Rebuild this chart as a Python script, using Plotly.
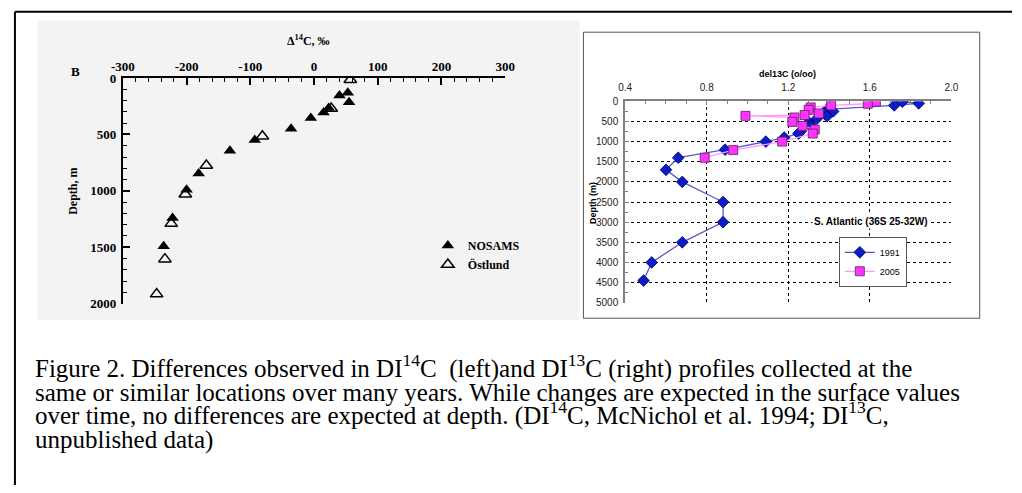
import plotly.graph_objects as go

# ---------------- data ----------------
# Left panel: Delta 14C profiles
nosams_d14c = [53, 40, 55, 23, 15, -5, -36, -93, -132, -181, -200, -222, -236]
nosams_depth = [130, 155, 215, 265, 305, 355, 450, 550, 645, 845, 990, 1240, 1490]
ostlund_d14c = [57, 27, -81, -169, -202, -224, -234, -247]
ostlund_depth = [15, 270, 515, 775, 1030, 1290, 1605, 1915]

# Right panel: del13C profiles, S. Atlantic
d13c_1991 = [1.76, 1.84, 1.72, 1.39, 1.42, 1.38, 1.39, 1.34, 1.30, 1.31, 1.26, 1.25,
             1.18, 1.09, 0.89, 0.66, 0.60, 0.68, 0.88, 0.88, 0.68, 0.53, 0.49]
depth_1991 = [10, 50, 100, 200, 250, 300, 370, 430, 520, 600, 750, 800,
              900, 1000, 1200, 1400, 1700, 2000, 2500, 3000, 3500, 4000, 4450]
d13c_2005 = [1.63, 1.59, 1.41, 1.31, 1.30, 1.35, 1.28, 0.99, 1.23, 1.22, 1.27, 1.33,
             1.32, 1.17, 0.93, 0.79]
depth_2005 = [10, 60, 100, 150, 210, 300, 340, 360, 400, 510, 610, 700,
              800, 1000, 1210, 1400]

left_xticks = [-300, -200, -100, 0, 100, 200, 300]
left_xlabels = ["-300", "-200", "-100", "0", "100", "200", "300"]
left_yticks = [0, 500, 1000, 1500, 2000]

caption_lines = [
    "Figure 2. Differences observed in DI<sup>14</sup>C  (left)and DI<sup>13</sup>C (right) profiles collected at the",
    "same or similar locations over many years. While changes are expected in the surface values",
    "over time, no differences are expected at depth. (DI<sup>14</sup>C, McNichol et al. 1994; DI<sup>13</sup>C,",
    "unpublished data)",
]

# ---------------- helpers ----------------
W, H = 1022, 493


def px(x):
    return x / W


def py(y):
    return 1 - y / H


SERIF = "Liberation Serif, Times New Roman, serif"
SANS = "Liberation Sans Narrow, Arial Narrow, Liberation Sans, Arial, sans-serif"

fig = go.Figure()

# Left panel traces
fig.add_trace(go.Scatter(
    x=nosams_d14c, y=nosams_depth, mode="markers", name="NOSAMS",
    marker=dict(symbol="triangle-up", size=11, color="black"),
    xaxis="x", yaxis="y", legend="legend2"))
fig.add_trace(go.Scatter(
    x=ostlund_d14c, y=ostlund_depth, mode="markers", name="Östlund",
    marker=dict(symbol="triangle-up-open", size=11, color="black", line=dict(width=1.5)),
    xaxis="x", yaxis="y", legend="legend2"))

# Right panel traces
fig.add_trace(go.Scatter(
    x=d13c_1991, y=depth_1991, mode="lines+markers", name="1991",
    line=dict(color="#5a5ac8", width=1.3),
    marker=dict(symbol="diamond", size=9, color="#0a1ec8", line=dict(color="#000060", width=0.8)),
    xaxis="x2", yaxis="y2", legend="legend"))
fig.add_trace(go.Scatter(
    x=d13c_2005, y=depth_2005, mode="lines+markers", name="2005",
    line=dict(color="#ff99ff", width=1.3),
    marker=dict(symbol="square", size=9, color="#ff33ff", line=dict(color="#602060", width=0.8)),
    xaxis="x2", yaxis="y2", legend="legend"))

shapes = [
    # light grey backdrop of the scanned left panel
    dict(type="rect", xref="paper", yref="paper", x0=px(26), x1=px(580), y0=py(323), y1=py(14),
         fillcolor="#f3f3f3", line=dict(width=0), layer="below"),
    # right panel frame
    dict(type="rect", xref="paper", yref="paper", x0=px(584), x1=px(989), y0=py(321), y1=py(26),
         fillcolor="white", line=dict(color="#555555", width=1), layer="below"),
    # outer frame (top and left edges visible)
    dict(type="line", xref="paper", yref="paper", x0=px(3), x1=1, y0=py(5), y1=py(5),
         line=dict(color="black", width=2), layer="above"),
    dict(type="line", xref="paper", yref="paper", x0=px(3), x1=px(3), y0=py(5), y1=0,
         line=dict(color="black", width=2), layer="above"),
]

annotations = [
    dict(text="<b>Δ<sup>14</sup>C, ‰</b>", x=px(303), y=py(35), xref="paper", yref="paper",
         showarrow=False, font=dict(family=SERIF, size=12, color="black"),
         xanchor="center", yanchor="middle"),
    dict(text="<b>B</b>", x=px(65), y=py(67), xref="paper", yref="paper",
         showarrow=False, font=dict(family=SERIF, size=13, color="black"),
         xanchor="center", yanchor="middle"),
    dict(text="<b>Depth, m</b>", x=px(63), y=py(190), xref="paper", yref="paper",
         showarrow=False, textangle=-90, font=dict(family=SERIF, size=12, color="black"),
         xanchor="center", yanchor="middle"),
    dict(text="<b>del13C (o/oo)</b>", x=px(793), y=py(69), xref="paper", yref="paper",
         showarrow=False, font=dict(family=SANS, size=9, color="black"),
         xanchor="center", yanchor="middle"),
    dict(text="<b>Depth (m)</b>", x=px(594), y=py(202), xref="paper", yref="paper",
         showarrow=False, textangle=-90, font=dict(family=SANS, size=9, color="black"),
         xanchor="center", yanchor="middle"),
    dict(text="<b>S. Atlantic (36S 25-32W)</b>", x=px(878), y=py(221), xref="paper", yref="paper",
         showarrow=False, font=dict(family=SANS, size=10, color="black"),
         xanchor="center", yanchor="middle", bgcolor="white"),
]

# caption: one annotation per line, anchored at the bottom so baselines stay evenly spaced
cap_baselines = [383, 407.5, 432, 456.5]
cap_size = 25
for line, base in zip(caption_lines, cap_baselines):
    annotations.append(dict(text=line, x=px(21), y=py(base + 0.216 * cap_size + 1),
                            xref="paper", yref="paper", showarrow=False,
                            font=dict(family=SERIF, size=cap_size, color="black"),
                            xanchor="left", yanchor="bottom"))

fig.update_layout(
    width=W, height=H,
    margin=dict(l=0, r=0, t=0, b=0),
    paper_bgcolor="white",
    plot_bgcolor="rgba(0,0,0,0)",
    showlegend=True,
    shapes=shapes,
    annotations=annotations,
    xaxis=dict(
        domain=[px(113.3), px(504)], range=[-300, 300], side="top", anchor="y",
        tickmode="array", tickvals=left_xticks, ticktext=left_xlabels,
        showline=True, linecolor="black", linewidth=2,
        ticks="inside", ticklen=7, tickwidth=1.5, tickcolor="black",
        minor=dict(dtick=20, tick0=0, ticks="inside", ticklen=4, tickwidth=1, tickcolor="black", showgrid=False),
        showgrid=False, zeroline=False,
        tickfont=dict(family=SERIF, size=13, color="black", weight="bold"),
        ticklabelstandoff=0,
    ),
    yaxis=dict(
        domain=[py(306), py(73.3)], range=[2000, 0], anchor="x",
        tickmode="array", tickvals=left_yticks,
        showline=True, linecolor="black", linewidth=2,
        ticks="inside", ticklen=7, tickwidth=1.5, tickcolor="black",
        minor=dict(dtick=100, tick0=0, ticks="inside", ticklen=4, tickwidth=1, tickcolor="black", showgrid=False),
        showgrid=False, zeroline=False,
        tickfont=dict(family=SERIF, size=13, color="black", weight="bold"),
        ticklabelstandoff=2,
    ),
    xaxis2=dict(
        domain=[px(626.7), px(960)], range=[0.4, 2.0], side="top", anchor="y2",
        dtick=0.4, tick0=0.4, tickformat=".1f",
        showline=True, linecolor="#808080", linewidth=2,
        ticks="inside", ticklen=4, tickcolor="#808080",
        minor=dict(dtick=0.1, tick0=0.4, ticks="inside", ticklen=3, tickcolor="#808080", showgrid=False),
        showgrid=True, gridcolor="black", griddash="dot", gridwidth=1,
        zeroline=False,
        tickfont=dict(family=SANS, size=10, color="#222222"),
        ticklabelstandoff=4,
    ),
    yaxis2=dict(
        domain=[py(305), py(97.3)], range=[5000, 0], anchor="x2",
        dtick=500, tick0=0,
        showline=True, linecolor="#808080", linewidth=2,
        ticks="inside", ticklen=4, tickcolor="#808080",
        minor=dict(dtick=250, tick0=0, ticks="inside", ticklen=3, tickcolor="#808080", showgrid=False),
        showgrid=True, gridcolor="black", griddash="dot", gridwidth=1,
        zeroline=False,
        tickfont=dict(family=SANS, size=10, color="#222222"),
        ticklabelstandoff=3,
    ),
    legend=dict(
        x=px(845), y=py(237), xanchor="left", yanchor="top",
        bgcolor="white", bordercolor="#555555", borderwidth=1,
        font=dict(family=SANS, size=9, color="black"),
        itemwidth=30, tracegroupgap=0,
    ),
    legend2=dict(
        x=px(425), y=py(231), xanchor="left", yanchor="top",
        bgcolor="rgba(0,0,0,0)", borderwidth=0,
        font=dict(family=SERIF, size=12, color="black", weight="bold"),
        itemwidth=30, tracegroupgap=0,
    ),
)

fig.write_html(
    "out.html",
    config={"displayModeBar": False},
    post_script="document.body.style.margin='0';document.body.style.overflow='hidden';",
)
